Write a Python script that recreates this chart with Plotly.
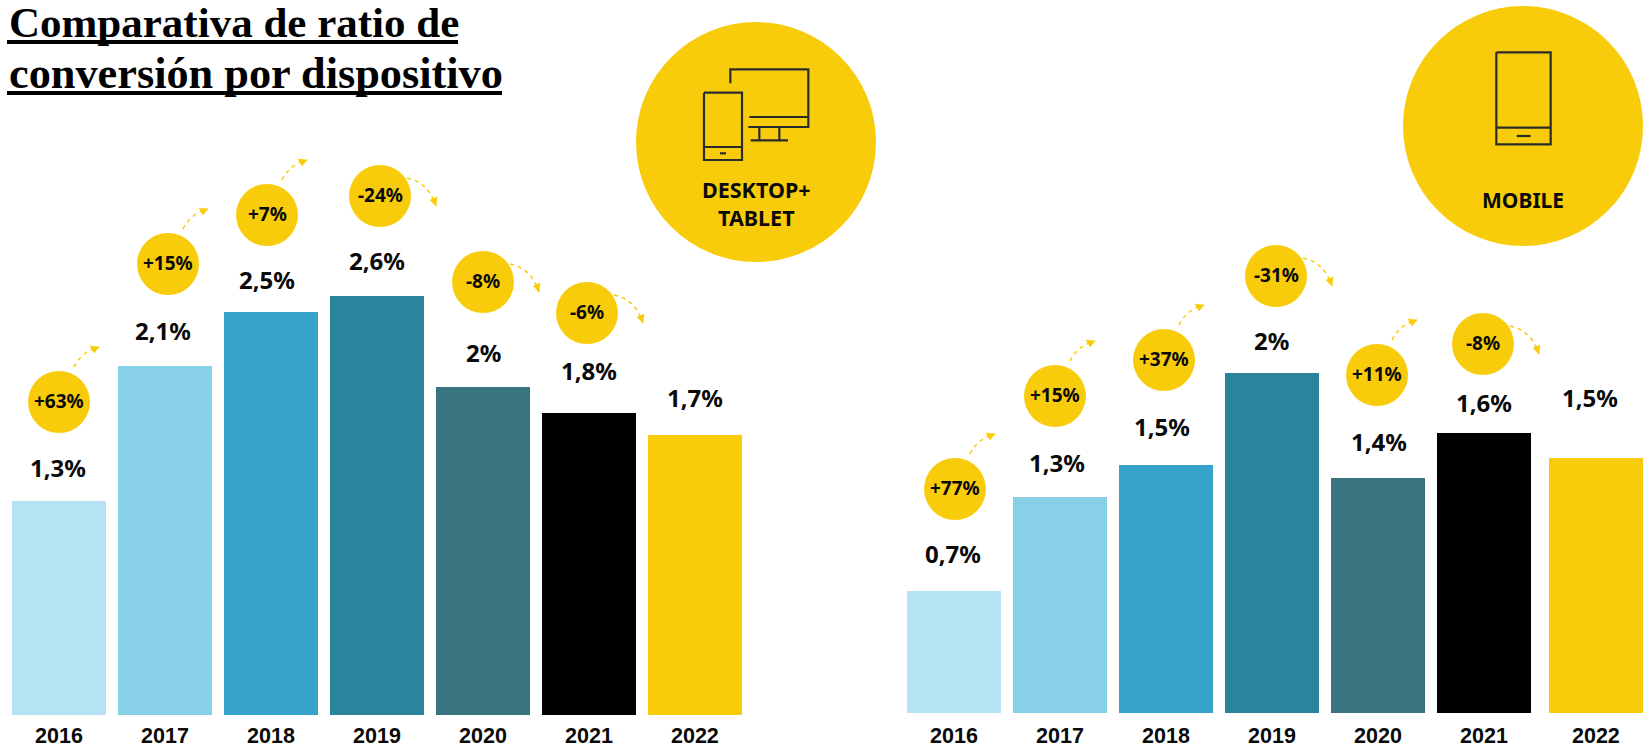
import plotly.graph_objects as go

W, H = 1644, 748
years = [2016, 2017, 2018, 2019, 2020, 2021, 2022]
colors = ["#B6E3F3", "#88CFE8", "#36A3CA", "#2A849B", "#39747F", "#000000", "#F9CC0B"]
YELLOW = "#F9CC0B"
INK = "#2B2B2B"
FONT = "Noto Sans"
YEAR_FONT = "Liberation Sans"

desktop_values = [1.31, 2.14, 2.47, 2.57, 2.01, 1.855, 1.72]
desktop_labels = ["1,3%", "2,1%", "2,5%", "2,6%", "2%", "1,8%", "1,7%"]
desktop_changes = ["+63%", "+15%", "+7%", "-24%", "-8%", "-6%"]

mobile_values = [0.72, 1.27, 1.46, 2.0, 1.38, 1.65, 1.50]
mobile_labels = ["0,7%", "1,3%", "1,5%", "2%", "1,4%", "1,6%", "1,5%"]
mobile_changes = ["+77%", "+15%", "+37%", "-31%", "+11%", "-8%"]

# layout (pixels)
desktop_lift = [34, 36, 33, 36, 35, 42, 37]
desktop_dx = [-1, -2, -4, 0, 0, 0, 0]
desktop_badges = [(59, 402), (168, 264), (267, 215), (380, 196), (483, 282), (587, 313)]
mobile_lift = [37, 35, 38, 33, 37, 30, 61]
mobile_dx = [-1, -3, -4, -1, 1, 0, -6]
mobile_badges = [(955, 489), (1055, 396), (1164, 360), (1276, 276), (1377, 375), (1483, 344)]


def px(x):
    return x / W


def py(y):
    return 1 - y / H


fig = go.Figure()
bar_w = 94 / 106
step = 106
panels = [
    dict(xa="x", ya="y", values=desktop_values, x0=0, x1=822, c0=59, base=715, k=163, ticklen=1,
         shift=[0] * 7),
    dict(xa="x2", ya="y2", values=mobile_values, x0=822, x1=1644, c0=954, base=713, k=170, ticklen=3,
         shift=[0, 0, 0, 0, 0, 0, 5.5 / 106]),
]
for p in panels:
    fig.add_trace(go.Bar(x=years, y=p["values"], xaxis=p["xa"], yaxis=p["ya"],
                         marker=dict(color=colors, line=dict(width=0)),
                         width=bar_w, offset=[-bar_w / 2 + s for s in p["shift"]],
                         showlegend=False, hoverinfo="skip"))

axis_common = dict(type="linear", tickmode="array", tickvals=years[:-1], ticktext=[str(y) for y in years[:-1]],
                   showgrid=False, zeroline=False, showline=False, ticks="outside",
                   tickcolor="rgba(0,0,0,0)", automargin=False,
                   tickfont=dict(family=YEAR_FONT, size=21.5, color="#0A0A0A", weight=700))
y_common = dict(showgrid=False, zeroline=False, showticklabels=False, ticks="", showline=False, automargin=False)
for i, p in enumerate(panels):
    suffix = "" if i == 0 else "2"
    xr = [2016 - (p["c0"] - p["x0"]) / step, 2016 + (p["x1"] - p["c0"]) / step]
    fig.update_layout({
        "xaxis" + suffix: dict(axis_common, ticklen=p["ticklen"], domain=[px(p["x0"]), px(p["x1"])], range=xr,
                               anchor="y" + suffix),
        "yaxis" + suffix: dict(y_common, domain=[py(p["base"]), 1], range=[0, p["base"] / p["k"]], anchor="x" + suffix),
    })

ann = []
shapes = []


def text(x, y, s, size, family=FONT, weight=700, color="#0A0A0A", anchor="center"):
    ann.append(dict(x=px(x), y=py(y), xref="paper", yref="paper", text=s, showarrow=False,
                    xanchor=anchor, yanchor="middle",
                    font=dict(family=family, size=size, color=color, weight=weight)))


def circle(cx, cy, r, color=YELLOW):
    shapes.append(dict(type="circle", xref="paper", yref="paper", x0=px(cx - r), x1=px(cx + r),
                       y0=py(cy + r), y1=py(cy - r), fillcolor=color, line=dict(width=0), layer="above"))


def path(points, color=INK, width=2.2, dash=None, fill=None):
    d = "".join(("M" if i == 0 else "L") + f"{px(x):.5f},{py(y):.5f}" for i, (x, y) in enumerate(points))
    if fill:
        d += "Z"
    shapes.append(dict(type="path", xref="paper", yref="paper", path=d, layer="above",
                       fillcolor=fill or "rgba(0,0,0,0)",
                       line=dict(color=color, width=width, dash=dash or "solid")))


def arrow(cx, cy, up):
    if up:
        s, c, e = (cx + 15, cy - 35), (cx + 22, cy - 50), (cx + 40, cy - 55)
        head = [(e[0], e[1]), (e[0] - 9, e[1] - 1), (e[0] - 5, e[1] + 6)]
    else:
        s, c, e = (cx + 27, cy - 18), (cx + 48, cy - 14), (cx + 56, cy + 10)
        head = [(e[0], e[1]), (e[0] - 6, e[1] - 6), (e[0] + 1, e[1] - 9)]
    d = (f"M{px(s[0]):.5f},{py(s[1]):.5f}Q{px(c[0]):.5f},{py(c[1]):.5f} {px(e[0]):.5f},{py(e[1]):.5f}")
    shapes.append(dict(type="path", xref="paper", yref="paper", path=d, layer="above",
                       line=dict(color=YELLOW, width=1.5, dash="4px,4px")))
    path(head, color=YELLOW, width=0.5, fill=YELLOW)


# value labels, year 2022 labels, badges
for p, labels, lift, dx, badges, changes, y22 in [
    (panels[0], desktop_labels, desktop_lift, desktop_dx, desktop_badges, desktop_changes, 735.5),
    (panels[1], mobile_labels, mobile_lift, mobile_dx, mobile_badges, mobile_changes, 735.5),
]:
    for i, year in enumerate(years):
        ann.append(dict(x=year + p["shift"][i], y=p["values"][i], xref=p["xa"], yref=p["ya"], text=labels[i],
                        showarrow=False, yanchor="middle", xanchor="center",
                        xshift=dx[i], yshift=lift[i],
                        font=dict(family=FONT, size=24, color="#0A0A0A", weight=700)))
    center22 = p["c0"] + 6 * step + p["shift"][6] * step
    text(center22, y22, "2022", 21.5, family=YEAR_FONT)
    for (cx, cy), s in zip(badges, changes):
        circle(cx, cy, 31)
        text(cx, cy - 1, s, 19)
        arrow(cx, cy, s.startswith("+"))

# Title
text(7, 22, "Comparativa de ratio de", 43, family="Liberation Serif", anchor="left", color="#000000")
text(7, 73, "conversión por dispositivo", 44.3, family="Liberation Serif", anchor="left", color="#000000")
for x1, y0, y1 in [(458, 40, 44), (502, 91, 95)]:
    shapes.append(dict(type="rect", xref="paper", yref="paper", x0=px(7), x1=px(x1), y0=py(y1), y1=py(y0),
                       fillcolor="#000000", line=dict(width=0), layer="above"))

# Device badges
circle(756, 142, 120)
circle(1523, 126, 120)


def icon(ox, oy, pts, **kw):
    path([(ox + a / 3, oy + b / 3) for a, b in pts], **kw)


# desktop + tablet icon
ox, oy = 620, 0
icon(ox, oy, [(331, 250), (331, 208), (565, 208), (565, 381), (385, 381)])
icon(ox, oy, [(388, 351), (565, 351)])
icon(ox, oy, [(418, 381), (418, 421)])
icon(ox, oy, [(478, 381), (478, 421)])
icon(ox, oy, [(392, 421), (504, 421)])
icon(ox, oy, [(252, 278), (366, 278), (366, 480), (252, 480), (252, 278)])
icon(ox, oy, [(252, 441), (366, 441)])
icon(ox, oy, [(300, 460), (318, 460)])
text(756, 204, "DESKTOP+<br>TABLET", 21.5)

# mobile icon
ox, oy = 1390, 0
icon(ox, oy, [(319, 157), (482, 157), (482, 433), (319, 433), (319, 157)])
icon(ox, oy, [(319, 383), (482, 383)])
icon(ox, oy, [(380, 408), (422, 408)])
text(1523, 200, "MOBILE", 21)

fig.update_layout(width=W, height=H, margin=dict(l=0, r=0, t=0, b=0), paper_bgcolor="white",
                  plot_bgcolor="white", showlegend=False, annotations=ann, shapes=shapes, bargap=0)
fig.write_html("out.html", config=dict(displayModeBar=False),
               post_script="document.body.style.margin='0';document.body.style.overflow='hidden';")
